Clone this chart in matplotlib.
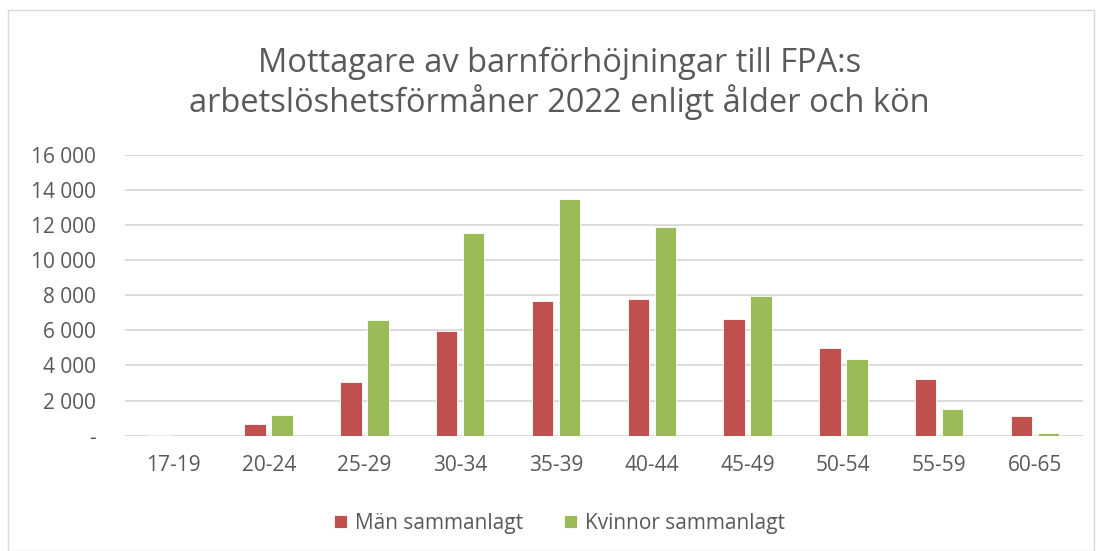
import numpy as np
import matplotlib.pyplot as plt
from matplotlib.ticker import FuncFormatter
from matplotlib.patches import Rectangle

# data
age_groups = ["17-19", "20-24", "25-29", "30-34", "35-39", "40-44", "45-49", "50-54", "55-59", "60-65"]
men = [20, 650, 3050, 5960, 7660, 7800, 6640, 4970, 3230, 1100]
women = [0, 1200, 6600, 11550, 13470, 11880, 7930, 4340, 1540, 150]

red = "#C0504D"
green = "#9BBB59"
text_col = "#595959"

plt.rcParams['font.family'] = ['Open Sans', 'DejaVu Sans']

fig = plt.figure(figsize=(10.97, 5.51), dpi=100)
ax = fig.add_axes([0.114, 0.2093, 0.873, 0.51])

x = np.arange(len(age_groups))
w = 0.224
off = 0.141
ax.bar(x - off, men, w, color=red, edgecolor="white", linewidth=0.6, label="Män sammanlagt", zorder=3)
ax.bar(x + off, women, w, color=green, edgecolor="white", linewidth=0.6, label="Kvinnor sammanlagt", zorder=3)

ax.set_xlim(-0.5, len(age_groups) - 0.5)
ax.set_ylim(0, 16000)
ax.set_yticks(range(0, 16001, 2000))

def fmt(v, pos):
    if v == 0:
        return "-"
    return f"{int(v):,}".replace(",", " ")

ax.yaxis.set_major_formatter(FuncFormatter(fmt))
ax.set_xticks(x)
ax.set_xticklabels(age_groups)
ax.tick_params(axis="both", length=0, labelsize=15, colors=text_col)
ax.tick_params(axis="x", pad=14)
ax.tick_params(axis="y", pad=21)
ax.grid(axis="y", color="#D9D9D9", linewidth=1.3, zorder=0)
for s in ax.spines.values():
    s.set_visible(False)

fig.text(0.51, 0.848, "Mottagare av barnförhöjningar till FPA:s\narbetslöshetsförmåner 2022 enligt ålder och kön",
         ha="center", va="center", fontsize=23.5, color=text_col, linespacing=1.15)

leg = fig.legend(loc="center", bbox_to_anchor=(0.51, 0.05), ncol=2, frameon=False,
                 fontsize=15, handlelength=0.63, handleheight=0.63, columnspacing=2.0, handletextpad=0.35)
for t in leg.get_texts():
    t.set_color(text_col)

fig.patches.append(Rectangle((0.007, 0.0), 0.99, 0.982, transform=fig.transFigure,
                             fill=False, edgecolor="#D9D9D9", linewidth=1))

fig.savefig("out.png", dpi=100)
